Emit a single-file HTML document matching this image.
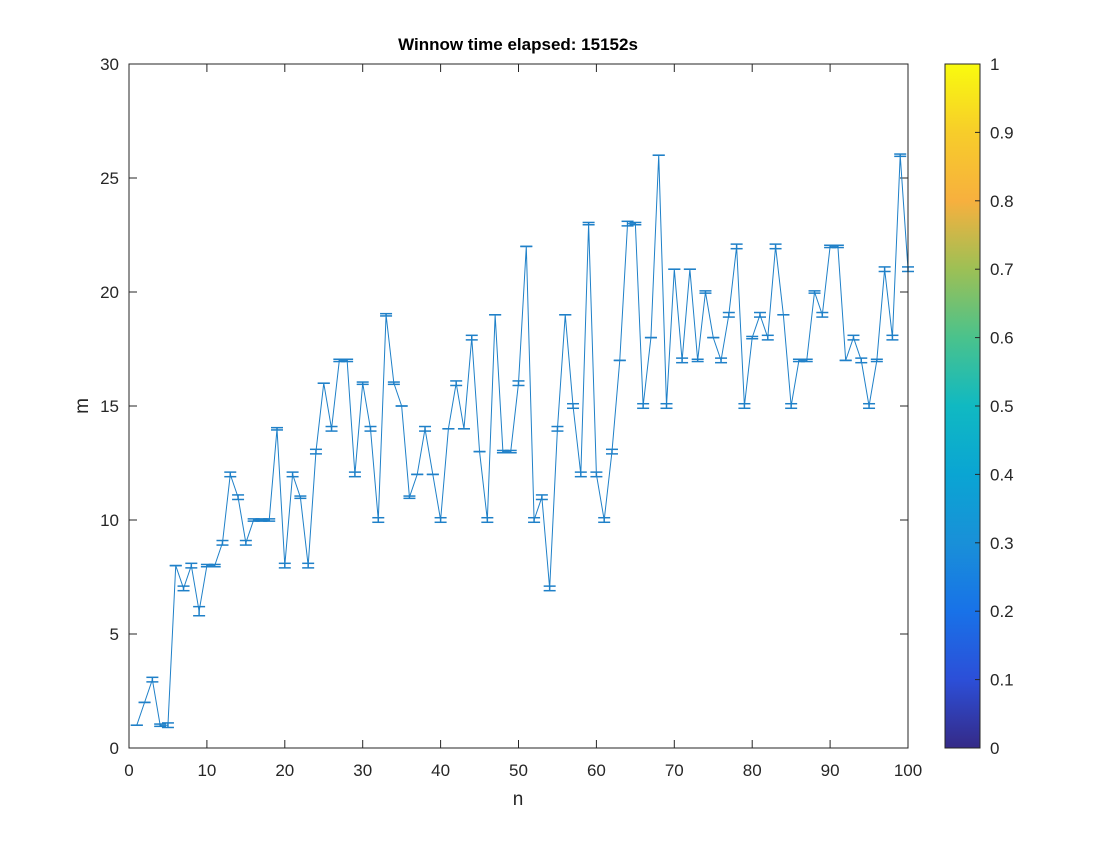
<!DOCTYPE html>
<html><head><meta charset="utf-8"><style>
body{margin:0;background:#fff;}
svg text{font-family:"Liberation Sans",sans-serif;fill:#262626;}
</style></head><body>
<svg id="c" width="1120" height="840">
<defs><linearGradient id="parula" x1="0" y1="1" x2="0" y2="0">
<stop offset="0" stop-color="#352a87"/><stop offset="0.1" stop-color="#2c4fd8"/>
<stop offset="0.2" stop-color="#1872e8"/><stop offset="0.3" stop-color="#1990d8"/>
<stop offset="0.4" stop-color="#0aa5d3"/><stop offset="0.5" stop-color="#10b9c2"/>
<stop offset="0.6" stop-color="#4ac28c"/><stop offset="0.7" stop-color="#9dc055"/>
<stop offset="0.8" stop-color="#f7b03e"/><stop offset="0.9" stop-color="#f7cd2a"/>
<stop offset="1" stop-color="#f9fb0e"/>
</linearGradient></defs>
<rect x="0" y="0" width="1120" height="840" fill="#fff"/>
<g id="plot"></g>
<rect x="129" y="64" width="779" height="684" fill="none" stroke="#262626" stroke-width="1"/>
<text x="518" y="50" text-anchor="middle" font-size="17" font-weight="bold" style="fill:#000">Winnow time elapsed: 15152s</text>
<text x="518" y="805" text-anchor="middle" font-size="19">n</text>
<text x="88" y="406" text-anchor="middle" font-size="19" transform="rotate(-90 88 406)">m</text>
<rect x="945" y="64" width="35" height="684" fill="url(#parula)" stroke="#262626" stroke-width="1"/>
<g id="cb"></g>
</svg>
<script>
const nValues=[];for(let i=1;i<=100;i++)nValues.push(i);
const mValues=[1,2,3,1,1,8,7,8,6,8,8,9,12,11,9,10,10,10,14,8,12,11,8,13,16,14,17,17,12,16,14,10,19,16,15,11,12,14,12,10,14,16,14,18,13,10,19,13,13,16,22,10,11,7,14,19,15,12,23,12,10,13,17,23,23,15,18,26,15,21,17,21,17,20,18,17,19,22,15,18,19,18,22,19,15,17,17,20,19,22,22,17,18,17,15,17,21,18,26,21];
const errValues=[0,0,0.1,0.05,0.1,0,0.1,0.1,0.2,0.05,0.05,0.1,0.1,0.1,0.1,0.05,0.05,0.05,0.05,0.1,0.1,0.05,0.1,0.1,0,0.1,0.05,0.05,0.1,0.05,0.1,0.1,0.05,0.05,0,0.05,0,0.1,0,0.1,0,0.1,0,0.1,0,0.1,0,0.05,0.05,0.1,0,0.1,0.1,0.1,0.1,0,0.1,0.1,0.05,0.1,0.1,0.1,0,0.1,0.05,0.1,0,0,0.1,0,0.1,0,0.05,0.05,0,0.1,0.1,0.1,0.1,0.05,0.1,0.1,0.1,0,0.1,0.05,0.05,0.05,0.1,0.05,0.05,0,0.1,0.1,0.1,0.05,0.1,0.1,0.05,0.1];
const xTicks=[0,10,20,30,40,50,60,70,80,90,100];
const yTicks=[0,5,10,15,20,25,30];
const cbTicks=[0,0.1,0.2,0.3,0.4,0.5,0.6,0.7,0.8,0.9,1];
const NS='http://www.w3.org/2000/svg';
const X=v=>129+v/100*779, Y=v=>748-v/30*684, CY=v=>748-v*684;
const g=document.getElementById('plot'), cb=document.getElementById('cb');
function mk(tag,at,parent){const e=document.createElementNS(NS,tag);for(const k in at)e.setAttribute(k,at[k]);parent.appendChild(e);return e;}
xTicks.forEach(t=>{
 const l=mk('line',{x1:X(t),x2:X(t),y1:748,y2:740,stroke:'#262626'},g);
 
 
 mk('line',{x1:X(t),x2:X(t),y1:64,y2:72,stroke:'#262626'},g);
 const tx=mk('text',{x:X(t),y:776,'text-anchor':'middle','font-size':17},g);tx.textContent=t;
 
 
});
yTicks.forEach(t=>{
 const l=mk('line',{x1:129,x2:137,y1:Y(t),y2:Y(t),stroke:'#262626'},g);
 
 
 mk('line',{x1:908,x2:900,y1:Y(t),y2:Y(t),stroke:'#262626'},g);
 const tx=mk('text',{x:119,y:Y(t)+6,'text-anchor':'end','font-size':17},g);tx.textContent=t;
 
 
});
cbTicks.forEach(t=>{
 mk('line',{x1:980,x2:975,y1:CY(t),y2:CY(t),stroke:'#262626'},cb);
 const tx=mk('text',{x:990,y:CY(t)+6,'font-size':17},cb);tx.textContent=t;
 
 
});
const pts=nValues.map((n,i)=>X(n)+','+Y(mValues[i])).join(' ');
const pl=mk('polyline',{points:pts,fill:'none',stroke:'#1f80c8','stroke-width':1},g);


nValues.forEach((n,i)=>{
 const x=X(n),hi=Y(mValues[i]+errValues[i]),lo=Y(mValues[i]-errValues[i]);
 const e=mk('g',{stroke:'#1f80c8','stroke-width':1.5},g);
 
 
 mk('line',{x1:x,x2:x,y1:hi,y2:lo},e);
 mk('line',{x1:x-6,x2:x+6,y1:hi,y2:hi},e);
 mk('line',{x1:x-6,x2:x+6,y1:lo,y2:lo},e);
});
</script>
</body></html>
